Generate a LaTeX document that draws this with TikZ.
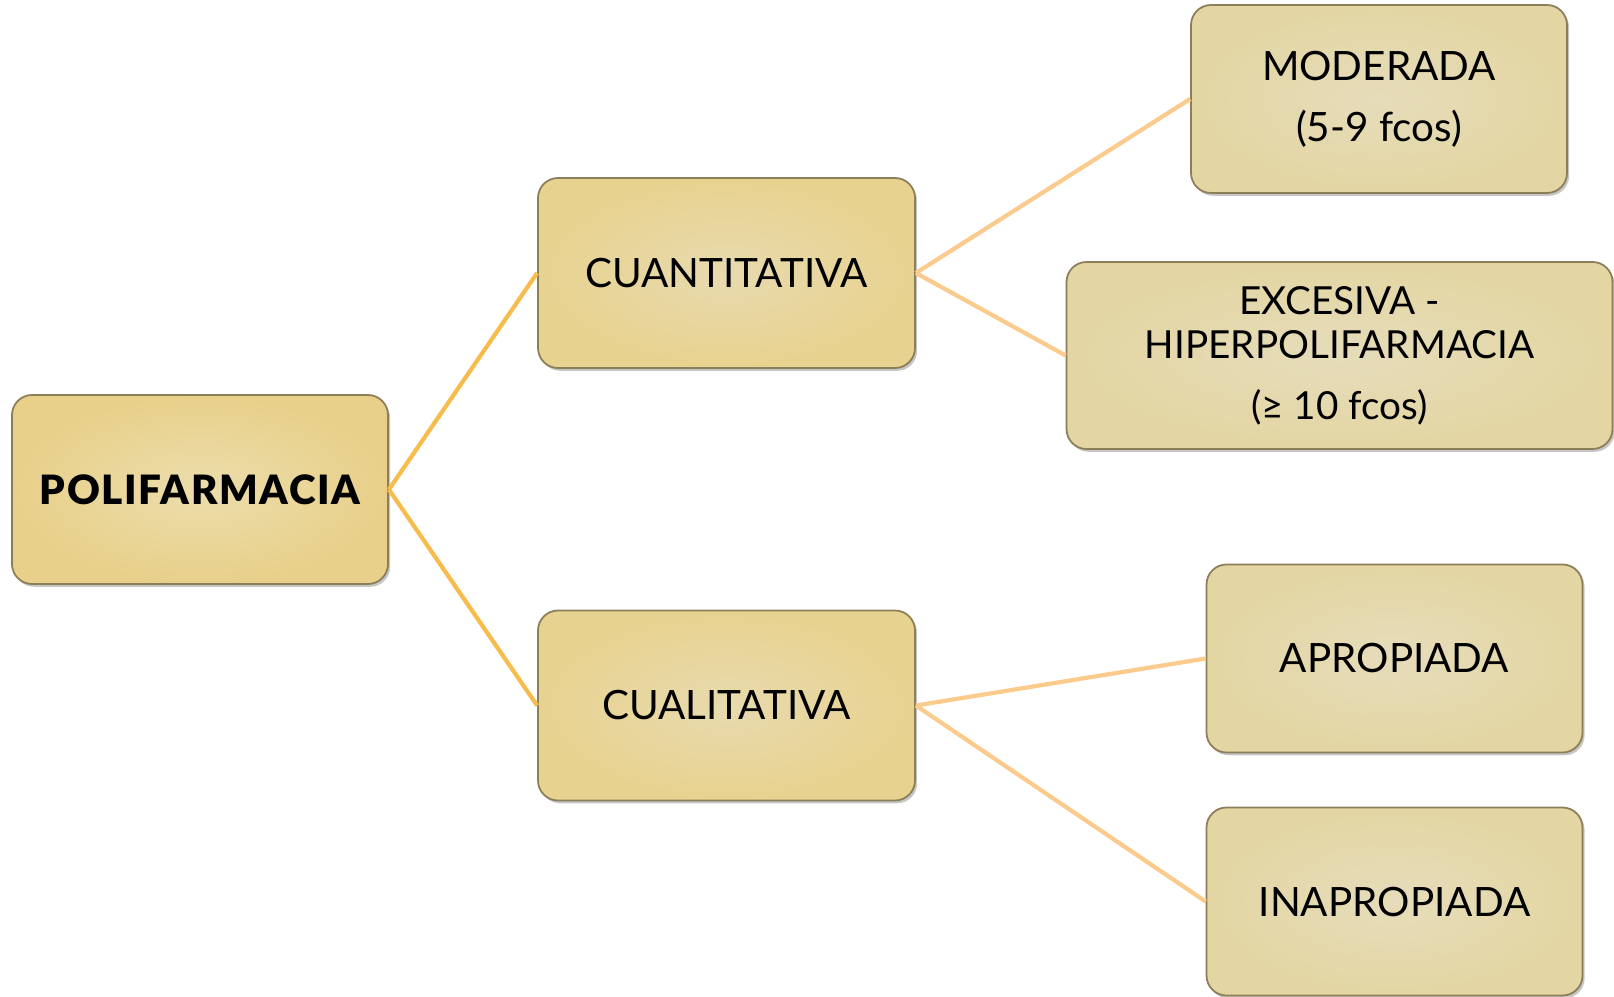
\documentclass[tikz,border=0pt]{standalone}
\usepackage{fontspec}
\setmainfont{Lato}
\newfontfamily\heavyfont{Lato Black}[LetterSpace=4]
\usepackage{tikz}
\usetikzlibrary{shapes,arrows,positioning,shadows}
\definecolor{rootin}{HTML}{ECDDAB}
\definecolor{rootout}{HTML}{E8D08A}
\definecolor{typein}{HTML}{E7DAAE}
\definecolor{typeout}{HTML}{E8D28F}
\definecolor{leafin}{HTML}{E6DCBA}
\definecolor{leafout}{HTML}{E3D6A3}
\definecolor{boxline}{HTML}{8C7E58}
\definecolor{branchcol}{HTML}{F8BC4C}
\definecolor{twigcol}{HTML}{FBCB8E}
\tikzset{
    rootbox/.style = {rectangle, rounded corners=2mm, minimum width=3.76cm, minimum height=1.89cm, text centered, draw=boxline, line width=0.5pt, inner color=rootin, outer color=rootout, drop shadow={shadow xshift=0.6pt, shadow yshift=-0.8pt, opacity=0.45}, font=\fontsize{11.5}{12.5}\selectfont\heavyfont},
    typebox/.style = {rectangle, rounded corners=2mm, minimum width=3.77cm, minimum height=1.9cm, text centered, draw=boxline, line width=0.5pt, inner color=typein, outer color=typeout, drop shadow={shadow xshift=0.6pt, shadow yshift=-0.8pt, opacity=0.45}, font=\fontsize{11.5}{12.5}\selectfont},
    leafbox/.style = {rectangle, rounded corners=2mm, minimum width=3.76cm, minimum height=1.88cm, align=center, draw=boxline, line width=0.5pt, inner color=leafin, outer color=leafout, drop shadow={shadow xshift=0.6pt, shadow yshift=-0.8pt, opacity=0.45}, font=\fontsize{11.5}{12.5}\selectfont},
    branch/.style = {draw=branchcol, line width=1.2pt},
    twig/.style = {draw=twigcol, line width=1.2pt}
}

\begin{document}
\begin{tikzpicture}[
    node distance=5.265cm,
    auto
]
    \useasboundingbox (0,0) rectangle (16.14,-9.96);

    % Levels
    \node [rootbox] (poli) at (2.0,-4.895) {POLIFARMACIA};

    \node [typebox, right of=poli, yshift=2.165cm] (cuanti) {CUANTITATIVA};
    \node [typebox, right of=poli, yshift=-2.16cm] (cuali) {CUALITATIVA};

    % Leaves
    \node [leafbox, right of=cuanti, xshift=1.26cm, yshift=1.74cm] (moderada) {
        MODERADA \\[4.9pt]
        (5-9 fcos)
    };

    \node [leafbox, right of=cuanti, xshift=0.865cm, yshift=-0.825cm, minimum width=5.46cm, minimum height=1.87cm, font=\fontsize{11}{12.5}\selectfont] (excesiva) {
        EXCESIVA - \\
        HIPERPOLIFARMACIA \\[4.9pt]
        (≥ 10 fcos)
    };

    \node [leafbox, right of=cuali, xshift=1.415cm, yshift=0.47cm] (apropiada) {APROPIADA};
    \node [leafbox, right of=cuali, xshift=1.415cm, yshift=-1.96cm] (inapropiada) {INAPROPIADA};

    % Links
    \draw [branch] (poli.east) -- (cuanti.west);
    \draw [branch] (poli.east) -- (cuali.west);
    \draw [twig] (cuanti.east) -- (moderada.west);
    \draw [twig] (cuanti.east) -- (excesiva.west);
    \draw [twig] (cuali.east) -- (apropiada.west);
    \draw [twig] (cuali.east) -- (inapropiada.west);
\end{tikzpicture}
\end{document}
